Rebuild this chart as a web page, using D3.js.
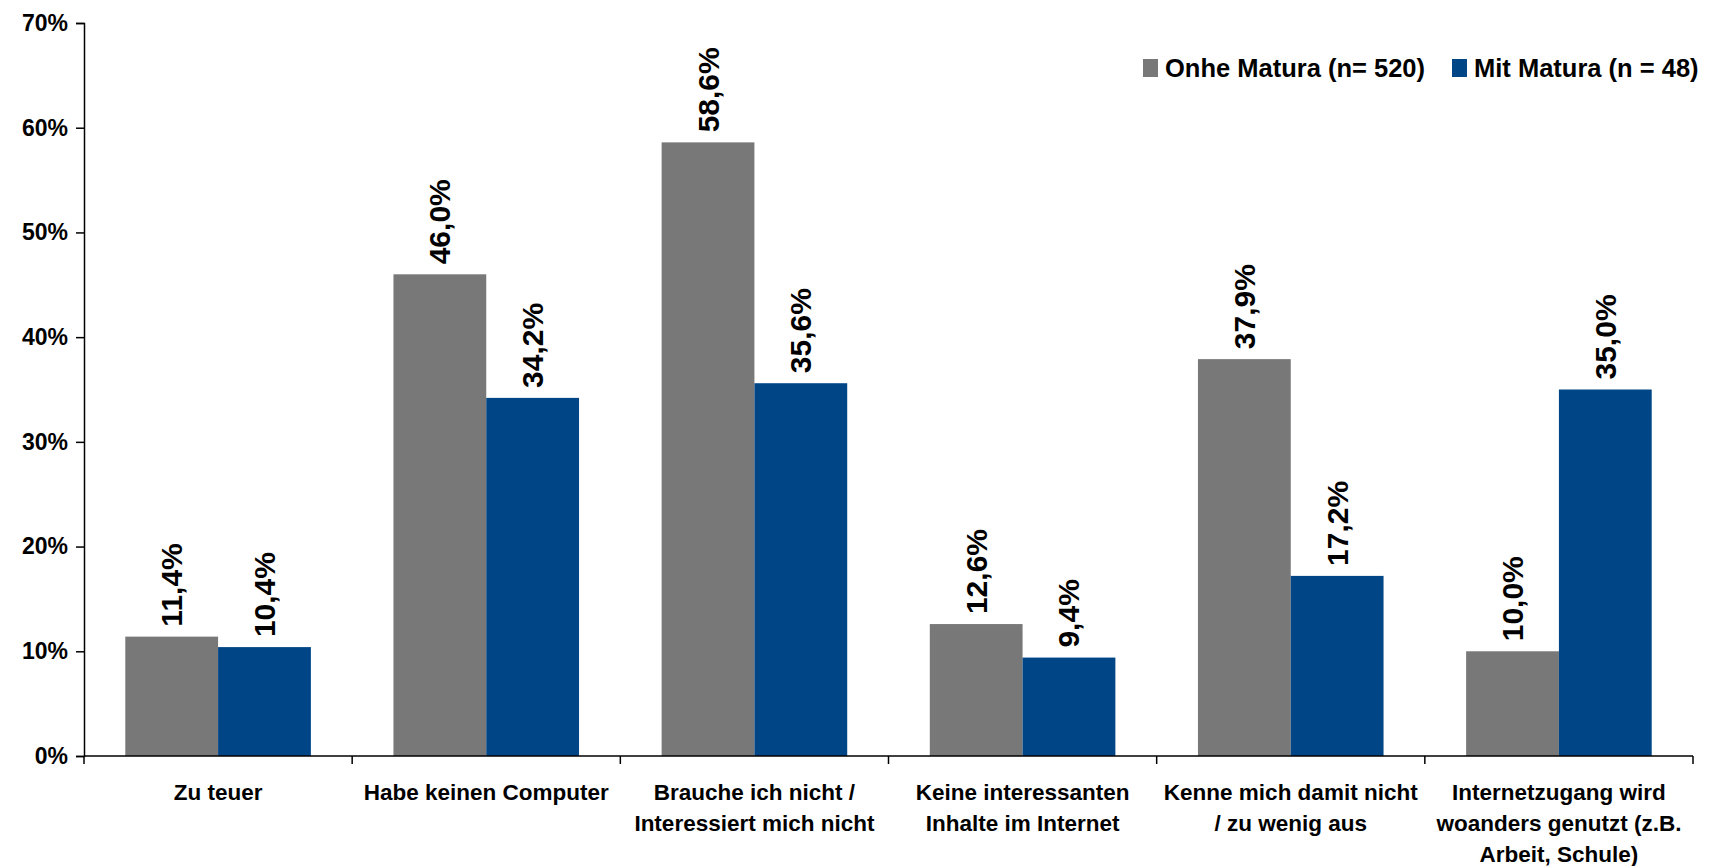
<!DOCTYPE html>
<html>
<head>
<meta charset="utf-8">
<script src="https://cdn.jsdelivr.net/npm/d3@7"></script>
<style>
  html, body { margin: 0; padding: 0; background: #fff; }
  svg { display: block; font-family: "Liberation Sans", Arial, sans-serif; font-weight: bold; }
</style>
</head>
<body>
<svg id="chart" width="1711" height="866"></svg>
<script>
// Survey reasons for not using the internet, by education level
const categories = [
  ["Zu teuer"],
  ["Habe keinen Computer"],
  ["Brauche ich nicht /", "Interessiert mich nicht"],
  ["Keine interessanten", "Inhalte im Internet"],
  ["Kenne mich damit nicht", "/ zu wenig aus"],
  ["Internetzugang wird", "woanders genutzt (z.B.", "Arbeit, Schule)"]
];
const seriesNames = ["Onhe Matura (n= 520)", "Mit Matura (n = 48)"];
const ohneMatura = [11.4, 46.0, 58.6, 12.6, 37.9, 10.0];
const mitMatura = [10.4, 34.2, 35.6, 9.4, 17.2, 35.0];
const yTicks = [0, 10, 20, 30, 40, 50, 60, 70];
const colors = ["#787878", "#004586"];

const svg = d3.select("#chart");
const plotLeft = 84, plotRight = 1693, plotTop = 23, plotBottom = 756;

const catIdx = d3.range(categories.length);
const x = d3.scaleBand().domain(catIdx).range([plotLeft, plotRight]).paddingInner(0).paddingOuter(0);
const xs = d3.scaleBand().domain([0, 1]).range([0, x.bandwidth()]).paddingInner(0).paddingOuter(0.445);
const y = d3.scaleLinear().domain([0, 70]).range([plotBottom, plotTop]);

const fmt = v => d3.format(".1f")(v).replace(".", ",") + "%";

const rows = catIdx.map(i => [ohneMatura[i], mitMatura[i]]);

// bars
const groups = svg.append("g").selectAll("g").data(rows).join("g")
  .attr("transform", (d, i) => `translate(${x(i)},0)`);
groups.selectAll("rect").data(d => d.map((v, s) => ({ v, s }))).join("rect")
  .attr("x", d => xs(d.s))
  .attr("width", xs.bandwidth())
  .attr("y", d => y(d.v))
  .attr("height", d => y(0) - y(d.v))
  .attr("fill", d => colors[d.s]);

// value labels, rotated
groups.selectAll("text").data(d => d.map((v, s) => ({ v, s }))).join("text")
  .attr("transform", d => `translate(${xs(d.s) + xs.bandwidth() / 2},${y(d.v) - 10}) rotate(-90)`)
  .attr("dy", "0.35em")
  .attr("text-anchor", "start")
  .attr("font-size", 30)
  .attr("fill", "#000")
  .text(d => fmt(d.v));

// y axis
const yAxis = svg.append("g")
  .attr("transform", `translate(${plotLeft},0)`)
  .call(d3.axisLeft(y).tickValues(yTicks).tickSize(8).tickPadding(8).tickFormat(d => d + "%"));
yAxis.select(".domain").attr("stroke", "#000").attr("stroke-width", 1.5);
yAxis.selectAll(".tick line").attr("stroke", "#000").attr("stroke-width", 1.5);
yAxis.selectAll(".tick text").attr("font-size", 23).attr("font-family", "Liberation Sans, Arial, sans-serif").attr("font-weight", "bold").attr("fill", "#000");

// x axis with ticks on category boundaries
const xb = d3.scaleLinear().domain([0, categories.length]).range([plotLeft, plotRight]);
const xAxis = svg.append("g").attr("transform", `translate(0,${plotBottom})`);
xAxis.append("line").attr("x1", plotLeft).attr("x2", plotRight).attr("stroke", "#000").attr("stroke-width", 1.5);
xAxis.selectAll("line.tk").data(d3.range(categories.length + 1)).join("line")
  .attr("class", "tk")
  .attr("x1", d => xb(d)).attr("x2", d => xb(d))
  .attr("y1", 0).attr("y2", 8)
  .attr("stroke", "#000").attr("stroke-width", 1.5);

// category labels
const catLabels = svg.append("g").selectAll("text").data(categories).join("text")
  .attr("x", (d, i) => x(i) + x.bandwidth() / 2)
  .attr("y", 800)
  .attr("text-anchor", "middle")
  .attr("font-size", 22.5)
  .attr("fill", "#000");
catLabels.selectAll("tspan").data(d => d).join("tspan")
  .attr("x", function () { return this.parentNode.getAttribute("x"); })
  .attr("dy", (d, j) => j === 0 ? 0 : 31)
  .text(d => d);

// legend
const legendX = [1143, 1452];
const legend = svg.append("g").selectAll("g").data(seriesNames).join("g")
  .attr("transform", (d, i) => `translate(${legendX[i]},59)`);
legend.append("rect").attr("width", 15).attr("height", 18).attr("fill", (d, i) => colors[i]);
legend.append("text").attr("x", 22).attr("y", 18).attr("font-size", 25.5).attr("fill", "#000").text(d => d);
</script>
</body>
</html>
